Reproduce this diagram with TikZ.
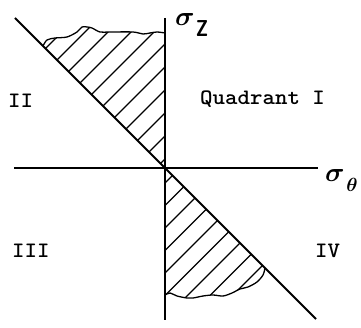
\documentclass[tikz,border=0pt]{standalone}
\begin{document}
\begin{tikzpicture}[x=1pt,y=-1pt,
  axis/.style={line width=1.8pt},
  hatch/.style={line width=1.2pt},
  edge/.style={line width=1.3pt, line join=round},
  sig/.style={inner sep=0pt, font=\boldmath},
  subz/.style={inner sep=0pt, font=\fontsize{23}{23}\selectfont\sffamily\bfseries},
  subt/.style={inner sep=0pt, font=\boldmath},
  lbl/.style={inner sep=0pt, anchor=base west, font=\fontsize{22}{22}\selectfont\ttfamily\bfseries}]
\path[use as bounding box] (0,0) rectangle (361,328);
% axes and diagonal
\coordinate (O) at (165,168);
\coordinate (vtop) at (165,18);
\coordinate (vbot) at (165,320);
\coordinate (hl) at (14,168);
\coordinate (hr) at (318,168);
\coordinate (dtl) at (15,18);
\coordinate (dbr) at (316,319);
% upper hatched region
\begin{scope}
\clip plot[smooth] coordinates {(43,46) (47,40) (55,38) (67,37) (77,32) (82,27) (87,27) (92,28) (100,32) (110,32) (133,32) (143,34) (150,33) (157,32) (165,33)} -- (O) -- cycle;
\foreach \c in {94,117,...,324} \draw[hatch] (\c-200,200) -- (\c,0);
\end{scope}
\draw[edge] plot[smooth] coordinates {(43,46) (47,40) (55,38) (67,37) (77,32) (82,27) (87,27) (92,28) (100,32) (110,32) (133,32) (143,34) (150,33) (157,32) (165,33)};
% lower hatched region
\begin{scope}
\clip plot[smooth] coordinates {(165,295) (170,293) (177,296) (187,298) (193,298) (203,296) (213,295) (223,296) (232,293) (240,289) (248,287) (257,282) (263,275) (265,268)} -- (O) -- cycle;
\foreach \c in {348,370.5,...,530} \draw[hatch] (\c-300,300) -- (\c-100,100);
\end{scope}
\draw[edge] plot[smooth] coordinates {(165,295) (170,293) (177,296) (187,298) (193,298) (203,296) (213,295) (223,296) (232,293) (240,289) (248,287) (257,282) (263,275) (265,268)};
\draw[axis] (vtop) -- (vbot);
\draw[axis] (hl) -- (hr);
\draw[axis] (dtl) -- (dbr);
% axis labels
\node[sig] (sz) at (185,20) {\scalebox{2.7}{$\sigma$}};
\node[subz] (zsub) at (202,28.5) {\scalebox{0.8}[1]{Z}};
\node[sig] (st) at (335,176) {\scalebox{2.7}{$\sigma$}};
\node[subt] (tsub) at (352,185) {\scalebox{1.9}{$\theta$}};
% quadrant labels
\node[lbl] (q2) at (8,108) {\scalebox{1.08}[1]{II}};
\node[lbl] (q1) at (200,105) {\scalebox{1.08}[1]{Quadrant I}};
\node[lbl] (q3) at (12,258) {\scalebox{1.08}[1]{III}};
\node[lbl] (q4) at (315,258) {\scalebox{1.08}[1]{IV}};
\end{tikzpicture}
\end{document}
